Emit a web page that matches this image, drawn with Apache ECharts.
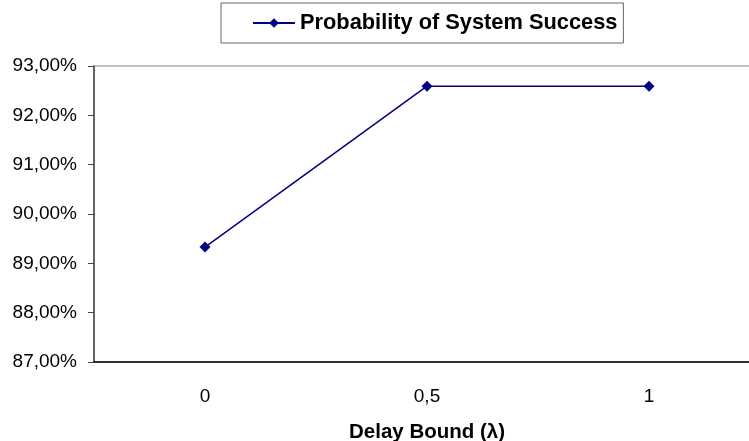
<!DOCTYPE html>
<html><head><meta charset="utf-8">
<script src="https://cdn.jsdelivr.net/npm/echarts@6/dist/echarts.min.js"></script>
<style>html,body{margin:0;padding:0;background:#fff}#c{width:749px;height:441px}</style>
</head><body><div id="c"></div>
<script>
const categories = ['0', '0,5', '1'];
const seriesName = 'Probability of System Success';
const values = [89.33, 92.59, 92.59];
const yMin = 87, yMax = 93, yStep = 1;
const xAxisName = 'Delay Bound (λ)';

const chart = echarts.init(document.getElementById('c'));
chart.setOption({
  animation: false,
  backgroundColor: '#fff',
  grid: { left: 94, width: 666, top: 66, height: 296, show: true, borderColor: '#888', borderWidth: 1,
          containLabel: false, outerBoundsMode: 'none' },
  legend: {
    left: 221, top: 3,
    padding: [9, 6, 9, 31],
    borderColor: '#666', borderWidth: 1,
    itemWidth: 42, itemHeight: 12, itemGap: 4,
    textStyle: { fontFamily: 'Liberation Sans, Arial', fontWeight: 'bold', fontSize: 21.8, lineHeight: 22, color: '#000' },
    data: [seriesName]
  },
  xAxis: {
    type: 'category', data: categories, boundaryGap: true,
    axisLine: { lineStyle: { color: '#000', width: 1.5 } },
    axisTick: { show: false },
    axisLabel: { fontFamily: 'Liberation Sans, Arial', fontSize: 19, color: '#000', margin: 25 },
    name: xAxisName, nameLocation: 'middle', nameGap: 60,
    nameTextStyle: { fontFamily: 'Liberation Sans, Arial', fontWeight: 'bold', fontSize: 20.5, color: '#000' }
  },
  yAxis: {
    type: 'value', min: yMin, max: yMax, interval: yStep,
    axisLine: { show: true, lineStyle: { color: '#444', width: 1.5 } },
    axisTick: { show: true, length: 6, lineStyle: { color: '#444' } },
    splitLine: { show: false },
    axisLabel: { fontFamily: 'Liberation Sans, Arial', fontSize: 19, color: '#000', margin: 17,
      formatter: v => v.toFixed(2).replace('.', ',') + '%' }
  },
  series: [{
    name: seriesName, type: 'line', data: values,
    symbol: 'diamond', symbolSize: 11,
    lineStyle: { color: '#000080', width: 1.5 },
    itemStyle: { color: '#000080' }
  }]
});
</script></body></html>
